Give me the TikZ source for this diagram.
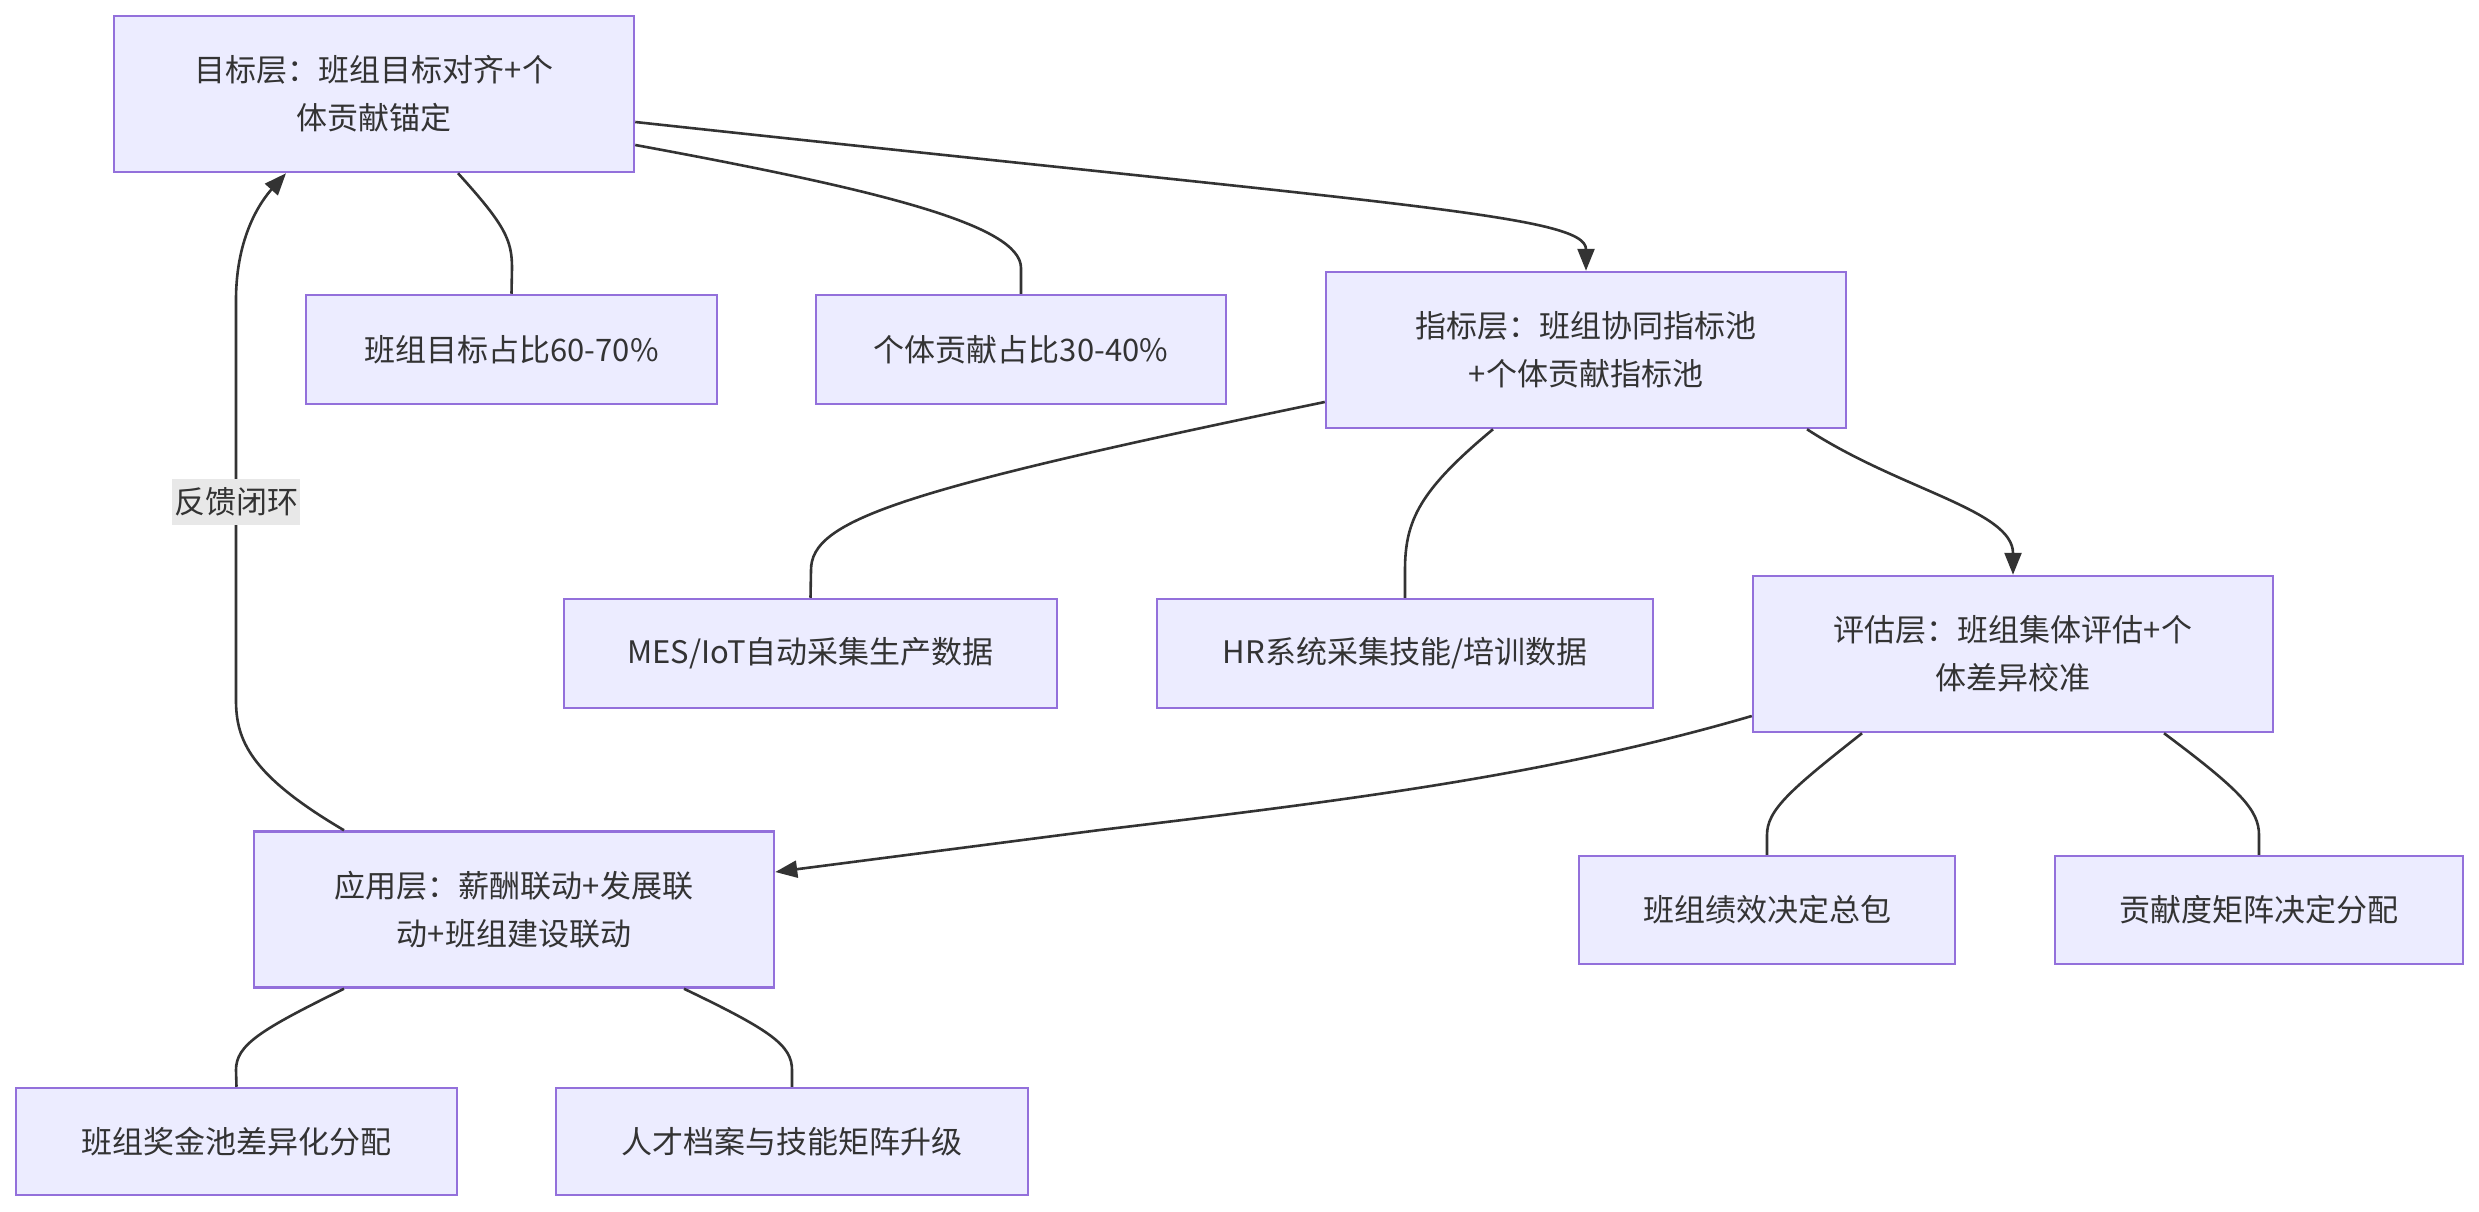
\documentclass[tikz,border=0pt]{standalone}
\usepackage{fontspec}
\setmainfont{Noto Sans CJK SC}
\usetikzlibrary{arrows.meta}
\definecolor{nodefill}{HTML}{ECECFF}
\definecolor{nodeborder}{HTML}{9370DB}
\definecolor{edgecol}{HTML}{333333}
\definecolor{lblbg}{HTML}{E8E8E8}
\begin{document}
\begin{tikzpicture}[x=1pt,y=-1pt,
  box/.style={draw=nodeborder, fill=nodefill, line width=2.5pt, align=center, text=edgecol,
    font=\fontsize{31}{48}\selectfont, inner sep=0pt},
  link/.style={draw=edgecol, line width=2.6pt},
  arr/.style={link, -{Triangle[length=22pt,width=17pt]}},
  lbl/.style={fill=lblbg, text=edgecol, font=\fontsize{31}{40}\selectfont, inner xsep=2pt, inner ysep=0pt, minimum height=46pt}]
\useasboundingbox (0,0) rectangle (2479,1212);
\fill[white] (0,0) rectangle (2479,1212);

% nodes
\node[box, minimum width=520pt, minimum height=156pt] (A) at (374,94) {目标层：班组目标对齐+个\\体贡献锚定};
\node[box, minimum width=411pt, minimum height=109pt] (A1) at (511.5,349.5) {班组目标占比60-70\%};
\node[box, minimum width=410pt, minimum height=109pt] (A2) at (1021,349.5) {个体贡献占比30-40\%};
\node[box, minimum width=520pt, minimum height=156pt] (B) at (1586,350) {指标层：班组协同指标池\\+个体贡献指标池};
\node[box, minimum width=493pt, minimum height=109pt] (B1) at (810.5,653.5) {MES/IoT自动采集生产数据};
\node[box, minimum width=496pt, minimum height=109pt] (B2) at (1405,653.5) {HR系统采集技能/培训数据};
\node[box, minimum width=520pt, minimum height=156pt] (C) at (2013,654) {评估层：班组集体评估+个\\体差异校准};
\node[box, minimum width=376pt, minimum height=108pt] (C1) at (1767,910) {班组绩效决定总包};
\node[box, minimum width=408pt, minimum height=108pt] (C2) at (2259,910) {贡献度矩阵决定分配};
\node[box, minimum width=520pt, minimum height=156pt] (D) at (514,909.5) {应用层：薪酬联动+发展联\\动+班组建设联动};
\node[box, minimum width=441pt, minimum height=107pt] (D1) at (236.5,1141.5) {班组奖金池差异化分配};
\node[box, minimum width=472pt, minimum height=107pt] (D2) at (792,1141.5) {人才档案与技能矩阵升级};

% edges
\draw[arr] ([yshift=-28pt]A.east) .. controls (1400,205) and (1586,215) .. (B.north);
\draw[link] ([xshift=84pt]A.south) .. controls (505,225) and (512,240) .. (512,268) -- (A1.north);
\draw[link] ([yshift=-51pt]A.east) .. controls (880,190) and (1021,225) .. (1021,268) -- (A2.north);
\draw[link] ([yshift=-52pt]B.west) .. controls (900,490) and (811,520) .. (811,570) -- (B1.north);
\draw[link] ([xshift=-93pt]B.south) .. controls (1420,490) and (1405,520) .. (1405,570) -- (B2.north);
\draw[arr] ([xshift=221pt]B.south) .. controls (1900,490) and (2013,510) .. (C.north);
\draw[arr] ([yshift=-62pt]C.west) .. controls (1550,775) and (1350,800) .. (1100,830) -- ([yshift=37.5pt]D.east);
\draw[link] ([xshift=-151pt]C.south) .. controls (1790,790) and (1767,810) .. (1767,835) -- (C1.north);
\draw[link] ([xshift=151pt]C.south) .. controls (2240,790) and (2259,810) .. (2259,835) -- (C2.north);
\draw[link] ([xshift=-170pt]D.south) .. controls (260,1030) and (236,1045) .. (236,1070) -- (D1.north);
\draw[link] ([xshift=170pt]D.south) .. controls (770,1030) and (792,1045) .. (792,1070) -- (D2.north);
\draw[arr] ([xshift=-170pt]D.north) .. controls (250,775) and (236,740) .. (236,700) -- (236,300) .. controls (236,235) and (262,200) .. ([xshift=-88pt]A.south);

\node[lbl] (L) at (236,502) {反馈闭环};
\end{tikzpicture}
\end{document}
